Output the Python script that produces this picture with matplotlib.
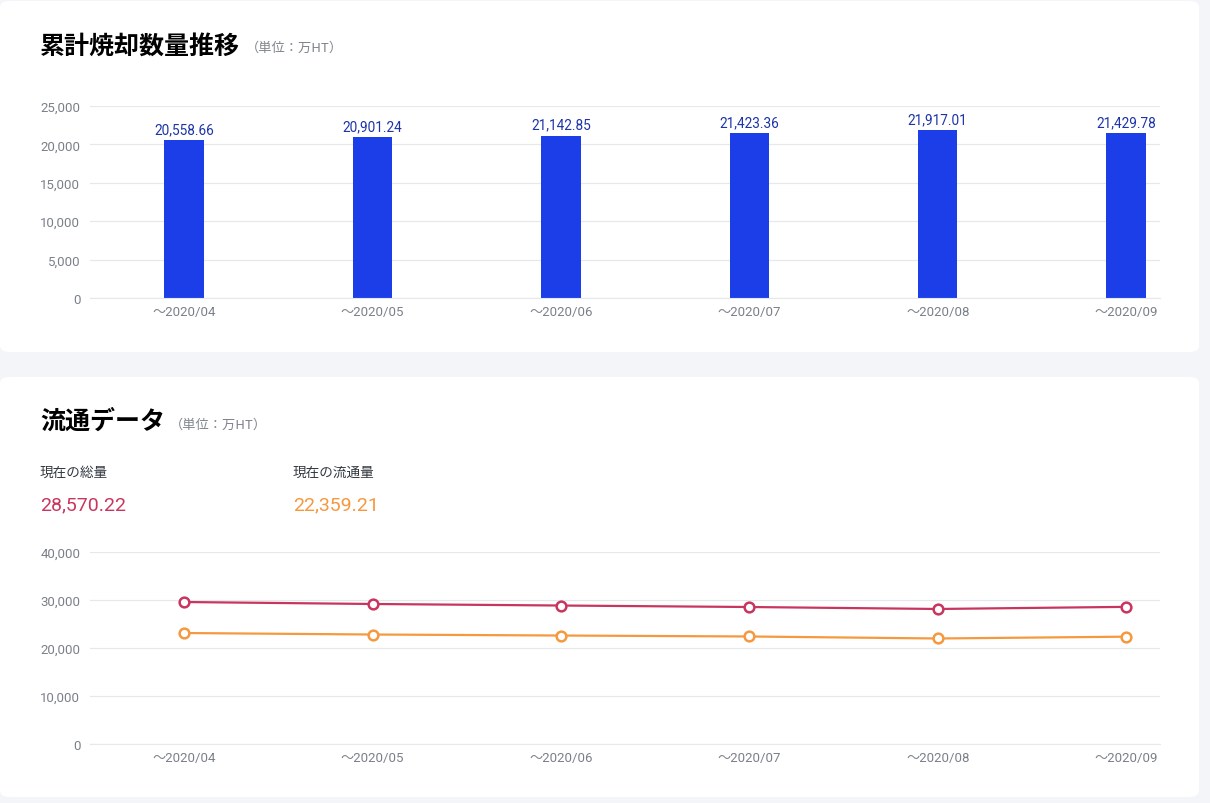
import matplotlib
matplotlib.use("Agg")
import matplotlib.pyplot as plt
from matplotlib.patches import FancyBboxPatch

plt.rcParams['font.family'] = ['Noto Sans CJK JP', 'DejaVu Sans']

W, H = 1210, 804

months = ["～2020/04", "～2020/05", "～2020/06", "～2020/07", "～2020/08", "～2020/09"]
burned = [20558.66, 20901.24, 21142.85, 21423.36, 21917.01, 21429.78]
total_supply = [29580, 29170, 28850, 28540, 28130, 28570.22]
circulating = [23120, 22810, 22600, 22400, 21980, 22359.21]

current_total = "28,570.22"
current_circ = "22,359.21"

BAR = "#1b3ee8"
BAR_TEXT = "#1c34a8"
RED = "#c8365f"
ORANGE = "#f5993f"
GRID = "#e6e8eb"
TICK = "#7b8088"
BG = "#f3f5f8"
NUM_FONT = ["Roboto", "Noto Sans CJK JP", "DejaVu Sans"]


def fx(x):
    return x / W


def fy(y):
    return 1 - y / H


fig = plt.figure(figsize=(W / 100, H / 100), dpi=100, facecolor=BG)

# white cards (behind the axes)
for top, bottom in [(2, 353), (378, 798)]:
    card = FancyBboxPatch((fx(0), fy(bottom)), fx(1199), (bottom - top) / H,
                          boxstyle="round,pad=0,rounding_size=0.008",
                          transform=fig.transFigure, facecolor="white",
                          edgecolor="none", zorder=-5)
    fig.patches.append(card)


def style_axis(ax, ymax, step):
    ax.set_facecolor("none")
    for s in ["top", "right", "left"]:
        ax.spines[s].set_visible(False)
    ax.spines["bottom"].set_color(GRID)
    ax.set_ylim(0, ymax)
    ax.set_yticks(range(0, ymax + 1, step))
    ax.set_yticklabels([f"{v:,}" for v in range(0, ymax + 1, step)])
    ax.yaxis.grid(True, color=GRID, linewidth=0.9)
    ax.set_axisbelow(True)
    ax.tick_params(axis="both", length=0, colors=TICK, labelsize=9.5)
    ax.tick_params(axis="y", pad=7)
    ax.tick_params(axis="x", pad=5)
    x = list(range(len(months)))
    ax.set_xticks(x)
    ax.set_xticklabels(months)
    ax.set_xlim(-0.5, 5.18)
    for lab in ax.get_xticklabels() + ax.get_yticklabels():
        lab.set_family(NUM_FONT)
    return x


# top chart: cumulative burn
ax1 = fig.add_axes([fx(90), fy(299), 1070 / W, 192 / H])
x = style_axis(ax1, 25000, 5000)
ax1.bar(x, burned, width=0.21, color=BAR, zorder=2)
for xi, v in zip(x, burned):
    ax1.text(xi, v + 500, f"{v:,.2f}", ha="center", va="bottom",
             color=BAR_TEXT, fontsize=9.8, family=NUM_FONT)

fig.text(fx(40), fy(47), "累計焼却数量推移", fontsize=18, fontweight="bold",
         va="center", color="black")
fig.text(fx(246), fy(48), "（単位：万HT）", fontsize=9.5, va="center", color="#80858d")

# bottom chart: circulation
ax2 = fig.add_axes([fx(90), fy(745), 1070 / W, 192 / H])
x = style_axis(ax2, 40000, 10000)
ax2.plot(x, total_supply, color=RED, linewidth=1.6, marker="o", markersize=7,
         markerfacecolor="white", markeredgewidth=1.8, zorder=3)
ax2.plot(x, circulating, color=ORANGE, linewidth=1.6, marker="o", markersize=7,
         markerfacecolor="white", markeredgewidth=1.8, zorder=3)

fig.text(fx(40), fy(422), "流通データ", fontsize=18, fontweight="bold",
         va="center", color="black")
fig.text(fx(170), fy(425), "（単位：万HT）", fontsize=9.5, va="center", color="#80858d")

fig.text(fx(40), fy(473), "現在の総量", fontsize=9.8, va="center", color="#333840")
fig.text(fx(293), fy(473), "現在の流通量", fontsize=9.8, va="center", color="#333840")
fig.text(fx(40), fy(505), current_total, fontsize=14, va="center", color=RED,
         family=NUM_FONT)
fig.text(fx(293), fy(505), current_circ, fontsize=14, va="center", color=ORANGE,
         family=NUM_FONT)

fig.savefig("out.png", dpi=100, facecolor=BG)
